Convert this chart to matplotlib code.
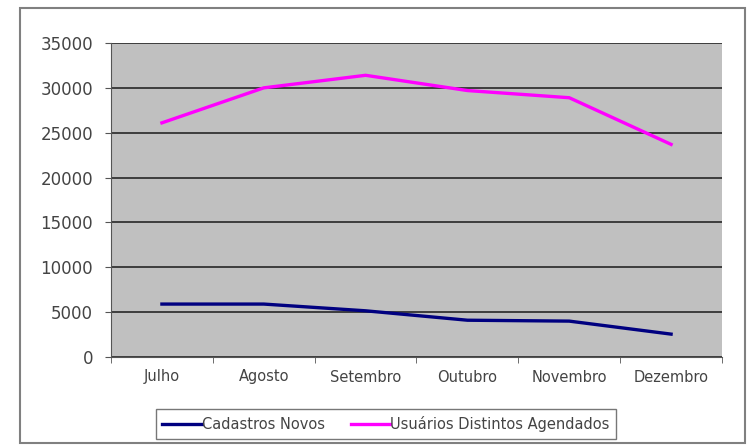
import matplotlib.pyplot as plt
import numpy as np
from matplotlib.patches import Rectangle

plt.rcParams['font.family'] = ['DejaVu Sans']

meses = ["Julho", "Agosto", "Setembro", "Outubro", "Novembro", "Dezembro"]
cadastros = [5900, 5900, 5150, 4100, 4000, 2550]
usuarios = [26100, 30000, 31400, 29700, 28900, 23700]

fig = plt.figure(figsize=(7.47, 4.46), dpi=100)
fig.patch.set_facecolor("white")
# moldura externa do grafico
fig.patches.append(Rectangle((20/747, 1-443/446), 725/747, 435/446, transform=fig.transFigure,
                             fill=False, edgecolor="#808080", lw=1.5))

ax = fig.add_axes([111/747, 1-357/446, 611/747, 314/446])
ax.set_facecolor("#c0c0c0")
x = np.arange(len(meses))
ax.plot(x, cadastros, color="#000080", lw=2.4, label="Cadastros Novos")
ax.plot(x, usuarios, color="#ff00ff", lw=2.4, label="Usuários Distintos Agendados")

ax.set_xlim(-0.5, len(meses) - 0.5)
ax.set_ylim(0, 35000)
ax.set_yticks(np.arange(0, 35001, 5000))
ax.set_xticks(x)
ax.set_xticklabels(meses)
ax.set_xticks(np.arange(-0.5, len(meses), 1), minor=True)
ax.tick_params(axis="x", which="major", length=0, pad=9, labelsize=10.5, colors="#444444")
ax.tick_params(axis="x", which="minor", length=4, color="#555555")
ax.tick_params(axis="y", length=4, color="#555555", labelsize=12, labelcolor="#444444", pad=9)
ax.grid(axis="y", color="#333333", lw=1.3)
ax.set_axisbelow(True)
for s in ["top", "right"]:
    ax.spines[s].set_visible(False)
for s in ["left", "bottom"]:
    ax.spines[s].set_color("#555555")

leg = fig.legend(loc="center", bbox_to_anchor=(386/747, 1-424/446), ncol=2, frameon=True,
                 fancybox=False, edgecolor="#555555", fontsize=10.5, handlelength=2.7,
                 handletextpad=0.0, columnspacing=1.8, borderpad=0.45)
for t in leg.get_texts():
    t.set_color("#444444")

fig.savefig("out.png", dpi=100)
